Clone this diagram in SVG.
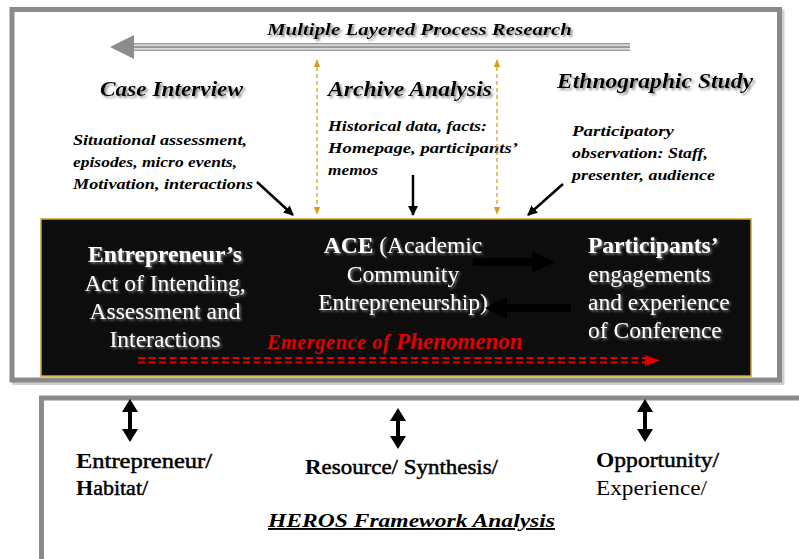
<svg xmlns="http://www.w3.org/2000/svg" width="799" height="559" viewBox="0 0 799 559" font-family="'Liberation Serif', 'Times New Roman', 'DejaVu Serif', serif">
<defs>
<style>
text{font-family:'Liberation Serif','Times New Roman','DejaVu Serif',serif}
.head{font-weight:bold;font-style:italic;font-size:22px;fill:#000}
.note{font-weight:bold;font-style:italic;font-size:15px;fill:#000}
.box{font-size:23.5px;fill:#fff}
.bot{font-size:22px;fill:#000}
.semi{stroke:#000;stroke-width:0.5}
.gold{stroke:#d4a017;stroke-width:1.3;stroke-dasharray:4 3;fill:none}
.thin{stroke:#000;stroke-width:2.5;fill:none}
</style>
<filter id="sh" x="-10%" y="-30%" width="130%" height="170%">
<feDropShadow dx="2" dy="2" stdDeviation="1.2" flood-color="#777" flood-opacity="0.8"/>
</filter>
<filter id="wsh" x="-10%" y="-30%" width="130%" height="170%">
<feDropShadow dx="1.5" dy="1.5" stdDeviation="0.8" flood-color="#888" flood-opacity="0.9"/>
</filter>
<marker id="ab" viewBox="0 0 10 10" refX="9" refY="5" markerWidth="4" markerHeight="4" orient="auto">
<path d="M0,0 L10,5 L0,10 z" fill="#000"/>
</marker>
<marker id="ag" viewBox="0 0 10 10" refX="9" refY="5" markerWidth="6" markerHeight="6" orient="auto-start-reverse">
<path d="M0,1 L10,5 L0,9 z" fill="#d4a017"/>
</marker>
</defs>

<g id="frame-top">
<rect x="14.5" y="12" width="767.5" height="370.5" fill="none" stroke="#d0d0d0" stroke-width="5"/>
<rect x="12" y="9.5" width="767.5" height="370.5" fill="#fff" stroke="#8a8a8a" stroke-width="5"/>
</g>
<g id="frame-bottom">
<rect x="41.5" y="398" width="800" height="200" fill="#fff" stroke="#8a8a8a" stroke-width="5"/>
</g>

<g id="title">
<text x="267" y="35" font-size="17" font-weight="bold" font-style="italic" textLength="305" lengthAdjust="spacingAndGlyphs" filter="url(#sh)">Multiple Layered Process Research</text>
</g>

<g id="case-interview">
<text class="head" x="100" y="96" textLength="143" lengthAdjust="spacingAndGlyphs" filter="url(#sh)">Case Interview</text>
<text class="note" x="73" y="145" textLength="174" lengthAdjust="spacingAndGlyphs">Situational assessment,</text>
<text class="note" x="73" y="167" textLength="164" lengthAdjust="spacingAndGlyphs">episodes, micro events,</text>
<text class="note" x="73" y="189" textLength="180" lengthAdjust="spacingAndGlyphs">Motivation, interactions</text>
</g>

<g id="archive-analysis">
<text class="head" x="328" y="96" textLength="164" lengthAdjust="spacingAndGlyphs" filter="url(#sh)">Archive Analysis</text>
<text class="note" x="328" y="131" textLength="159" lengthAdjust="spacingAndGlyphs">Historical data, facts:</text>
<text class="note" x="328" y="153" textLength="190" lengthAdjust="spacingAndGlyphs">Homepage, participants’</text>
<text class="note" x="328" y="175" textLength="50" lengthAdjust="spacingAndGlyphs">memos</text>
</g>

<g id="ethnographic-study">
<text class="head" x="557" y="88" textLength="196" lengthAdjust="spacingAndGlyphs" filter="url(#sh)">Ethnographic Study</text>
<text class="note" x="572" y="136" textLength="102" lengthAdjust="spacingAndGlyphs">Participatory</text>
<text class="note" x="572" y="158" textLength="136" lengthAdjust="spacingAndGlyphs">observation: Staff,</text>
<text class="note" x="572" y="180" textLength="143" lengthAdjust="spacingAndGlyphs">presenter, audience</text>
</g>

<g id="ace-box">
<rect x="41" y="219" width="710" height="157" fill="#0d0d0d" stroke="#c9a227" stroke-width="1.5"/>
</g>

<g id="entrepreneur" filter="url(#wsh)">
<text class="box" x="165" y="262" text-anchor="middle" font-weight="bold">Entrepreneur’s</text>
<text class="box" x="165" y="291" text-anchor="middle">Act of Intending,</text>
<text class="box" x="165" y="319" text-anchor="middle">Assessment and</text>
<text class="box" x="165" y="347" text-anchor="middle">Interactions</text>
</g>

<g id="ace" filter="url(#wsh)">
<text class="box" x="403" y="253" text-anchor="middle"><tspan font-weight="bold">ACE</tspan> (Academic</text>
<text class="box" x="403" y="282" text-anchor="middle">Community</text>
<text class="box" x="403" y="310" text-anchor="middle">Entrepreneurship)</text>
</g>

<g id="participants" filter="url(#wsh)">
<text class="box" x="588" y="253" font-weight="bold">Participants’</text>
<text class="box" x="588" y="282">engagements</text>
<text class="box" x="588" y="310">and experience</text>
<text class="box" x="588" y="338">of Conference</text>
</g>

<g id="emergence">
<text x="267" y="349" fill="#e00000" font-weight="bold" font-style="italic"><tspan font-size="20" letter-spacing="0.7">Emergence of </tspan><tspan font-size="23">Phenomenon</tspan></text>
</g>

<g id="connectors">
<line x1="630" y1="47" x2="130" y2="47" stroke="#9a9a9a" stroke-width="8"/>
<line x1="630" y1="45.2" x2="130" y2="45.2" stroke="#f2f2f2" stroke-width="1.3"/>
<line x1="630" y1="48.8" x2="130" y2="48.8" stroke="#f2f2f2" stroke-width="1.3"/>
<polygon points="110,47 134,35 134,59" fill="#8c8c8c"/>
<line class="gold" x1="317" y1="60" x2="317" y2="214" marker-start="url(#ag)" marker-end="url(#ag)"/>
<line class="gold" x1="497" y1="60" x2="497" y2="214" marker-start="url(#ag)" marker-end="url(#ag)"/>
<line class="thin" x1="257" y1="182" x2="293" y2="215" marker-end="url(#ab)"/>
<line class="thin" x1="413" y1="175" x2="413" y2="215" marker-end="url(#ab)"/>
<line class="thin" x1="563" y1="184" x2="528" y2="215" marker-end="url(#ab)"/>
<polygon points="473,258 532,258 532,251 555,262 532,273 532,266 473,266" fill="#000"/>
<polygon points="571,304 507,304 507,297 485,308 507,319 507,312 571,312" fill="#000"/>
<line x1="138" y1="358" x2="646" y2="358" stroke="#e00000" stroke-width="1.8" stroke-dasharray="7 3.5"/>
<line x1="138" y1="362.5" x2="646" y2="362.5" stroke="#e00000" stroke-width="1.8" stroke-dasharray="7 3.5"/>
<polygon points="645,355 660,360.5 645,366" fill="#e00000"/>
<polygon points="130,399 138,412 132,412 132,429 138,429 130,442 122,429 128,429 128,412 122,412" fill="#000"/>
<polygon points="398,408 406,421 400,421 400,436 406,436 398,449 390,436 396,436 396,421 390,421" fill="#000"/>
<polygon points="645,399 653,412 647,412 647,429 653,429 645,442 637,429 643,429 643,412 637,412" fill="#000"/>
</g>

<g id="heros-entrepreneur">
<text class="bot" x="76" y="468" textLength="136" lengthAdjust="spacingAndGlyphs"><tspan font-weight="bold">E</tspan><tspan class="semi">ntrepreneur/</tspan></text>
<text class="bot" x="76" y="495"><tspan font-weight="bold">H</tspan><tspan class="semi">abitat/</tspan></text>
</g>
<g id="heros-resource">
<text class="bot" x="305" y="474" textLength="193" lengthAdjust="spacingAndGlyphs"><tspan font-weight="bold">R</tspan><tspan class="semi">esource/ Synthesis/</tspan></text>
</g>
<g id="heros-opportunity">
<text class="bot" x="596" y="467" textLength="123" lengthAdjust="spacingAndGlyphs"><tspan font-weight="bold">O</tspan><tspan class="semi">pportunity/</tspan></text>
<text class="bot" x="596" y="495" textLength="111" lengthAdjust="spacingAndGlyphs">Experience/</text>
</g>
<g id="heros-title">
<text x="268" y="527" font-size="19" font-weight="bold" font-style="italic" text-decoration="underline" textLength="287" lengthAdjust="spacingAndGlyphs">HEROS Framework Analysis</text>
</g>
</svg>
